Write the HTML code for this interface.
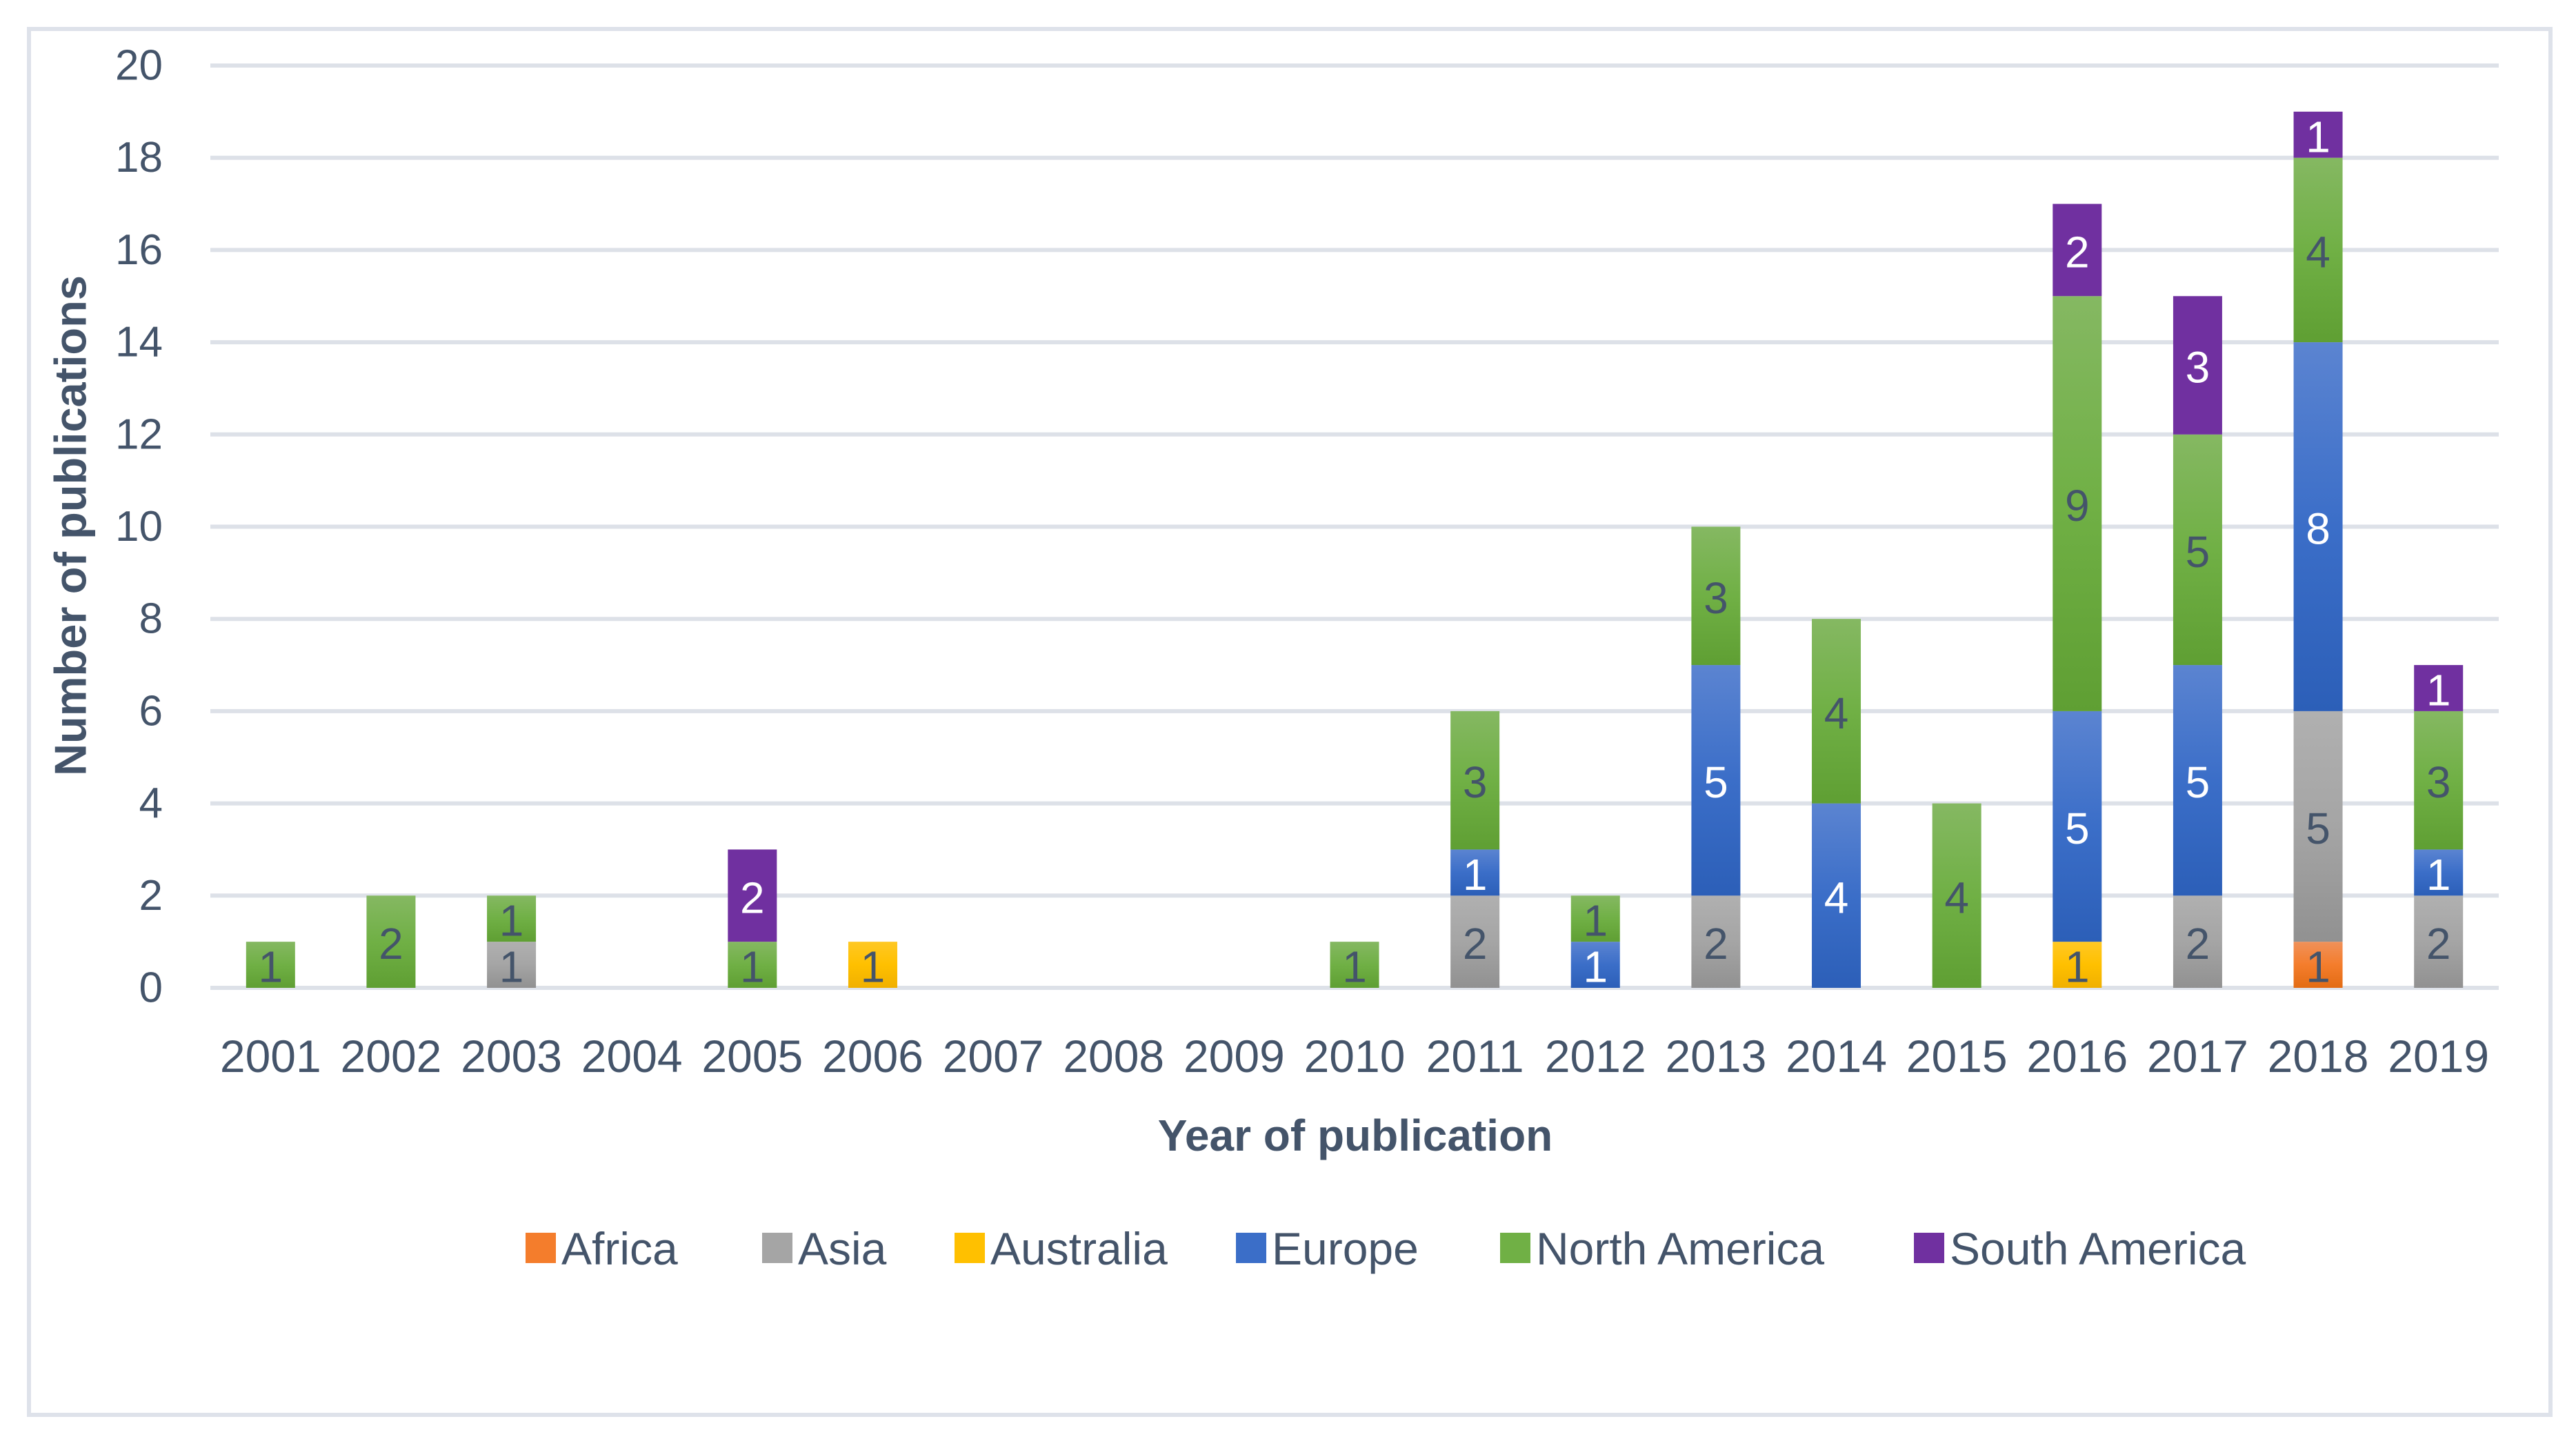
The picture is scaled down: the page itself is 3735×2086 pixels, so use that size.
<!DOCTYPE html>
<html><head><meta charset="utf-8"><style>
html,body{margin:0;padding:0;background:#fff;}
svg{display:block;font-family:"Liberation Sans",sans-serif;}
</style></head><body>
<svg id="chart" width="3735" height="2086" viewBox="0 0 3735 2086" xmlns="http://www.w3.org/2000/svg">
<defs>
<linearGradient id="g-africa" x1="0" y1="0" x2="0" y2="1"><stop offset="0" stop-color="#f0915a"/><stop offset="0.5" stop-color="#f47d2c"/><stop offset="1" stop-color="#e36c14"/></linearGradient>
<linearGradient id="g-asia" x1="0" y1="0" x2="0" y2="1"><stop offset="0" stop-color="#b0b0b0"/><stop offset="0.5" stop-color="#a5a5a5"/><stop offset="1" stop-color="#919191"/></linearGradient>
<linearGradient id="g-australia" x1="0" y1="0" x2="0" y2="1"><stop offset="0" stop-color="#ffc824"/><stop offset="0.5" stop-color="#ffc000"/><stop offset="1" stop-color="#f0b000"/></linearGradient>
<linearGradient id="g-europe" x1="0" y1="0" x2="0" y2="1"><stop offset="0" stop-color="#5b84d1"/><stop offset="0.5" stop-color="#3b6ec8"/><stop offset="1" stop-color="#2c5fb8"/></linearGradient>
<linearGradient id="g-na" x1="0" y1="0" x2="0" y2="1"><stop offset="0" stop-color="#85b862"/><stop offset="0.5" stop-color="#70b045"/><stop offset="1" stop-color="#5f9f33"/></linearGradient>
<linearGradient id="g-sa" x1="0" y1="0" x2="0" y2="1"><stop offset="0" stop-color="#7030a0"/><stop offset="1" stop-color="#7030a0"/></linearGradient>
</defs>
<rect x="42" y="42" width="3656" height="2009" fill="#fff" stroke="#dee2ea" stroke-width="6"/>
<g id="grid"></g>
<g id="bars"></g>
<g id="labels"></g>
<g id="axes"></g>
<text x="102" y="762" transform="rotate(-90 102 762)" text-anchor="middle" dominant-baseline="central" font-size="65" font-weight="bold" fill="#44546a">Number of publications</text>
<text x="1965" y="1646" text-anchor="middle" dominant-baseline="central" font-size="64" font-weight="bold" fill="#44546a">Year of publication</text>
<g id="legend"></g>
</svg>
<script>
const years = ["2001","2002","2003","2004","2005","2006","2007","2008","2009","2010","2011","2012","2013","2014","2015","2016","2017","2018","2019"];
const africa =       [0,0,0,0,0,0,0,0,0,0,0,0,0,0,0,0,0,1,0];
const asia =         [0,0,1,0,0,0,0,0,0,0,2,0,2,0,0,0,2,5,2];
const australia =    [0,0,0,0,0,1,0,0,0,0,0,0,0,0,0,1,0,0,0];
const europe =       [0,0,0,0,0,0,0,0,0,0,1,1,5,4,0,5,5,8,1];
const northAmerica = [1,2,1,0,1,0,0,0,0,1,3,1,3,4,4,9,5,4,3];
const southAmerica = [0,0,0,0,2,0,0,0,0,0,0,0,0,0,0,2,3,1,1];
const seriesNames = ["Africa","Asia","Australia","Europe","North America","South America"];
const yTicks = [0,2,4,6,8,10,12,14,16,18,20];

const NS = "http://www.w3.org/2000/svg";
const series = [africa, asia, australia, europe, northAmerica, southAmerica];
const fills = ["url(#g-africa)","url(#g-asia)","url(#g-australia)","url(#g-europe)","url(#g-na)","url(#g-sa)"];
const legendFills = ["#f47d2c","#a5a5a5","#ffc000","#3b6ec8","#70b045","#7030a0"];
const labelColors = ["#44546a","#44546a","#44546a","#ffffff","#44546a","#ffffff"];
const seriesKeys = ["africa","asia","australia","europe","north-america","south-america"];
const plotL = 305, plotR = 3623, y0 = 1432, yTop = 95, yMax = 20;
const band = (plotR - plotL) / years.length;
const barW = 71;
function yScale(v){ return y0 - (y0 - yTop) * v / yMax; }
function xCenter(i){ return plotL + band * (i + 0.5); }
function mk(tag, attrs, parent){ const e = document.createElementNS(NS, tag); for (const k in attrs) e.setAttribute(k, attrs[k]); parent.appendChild(e); return e; }

const grid = document.getElementById("grid");
const axes = document.getElementById("axes");
yTicks.forEach(t => {
  const l = mk("line", {x1: plotL, x2: plotR, y1: yScale(t), y2: yScale(t), stroke: "#dde1e8", "stroke-width": 6}, grid);
  
  
  const tx = mk("text", {x: 236, y: yScale(t), "text-anchor": "end", "dominant-baseline": "central", "font-size": 62, fill: "#44546a"}, axes);
  tx.textContent = t;
  
  
});
years.forEach((yr, i) => {
  const tx = mk("text", {x: xCenter(i), y: 1531, "text-anchor": "middle", "dominant-baseline": "central", "font-size": 66, fill: "#44546a"}, axes);
  tx.textContent = yr;
  
  
});

const bars = document.getElementById("bars");
const labels = document.getElementById("labels");
years.forEach((yr, i) => {
  let cum = 0;
  series.forEach((s, k) => {
    const v = s[i];
    if (!v) return;
    const yb = yScale(cum), yt = yScale(cum + v);
    const r = mk("rect", {x: xCenter(i) - barW/2, y: yt, width: barW, height: yb - yt, fill: fills[k]}, bars);
    
    
    const tx = mk("text", {x: xCenter(i), y: (yb + yt) / 2 + 3, "text-anchor": "middle", "dominant-baseline": "central", "font-size": 64, fill: labelColors[k]}, labels);
    tx.textContent = v;
    
    
    cum += v;
  });
});

const legend = document.getElementById("legend");
const legendX = [762, 1105, 1384, 1792, 2175, 2775];
seriesNames.forEach((n, k) => {
  const g = mk("g", {}, legend);
  
  
  const sq = mk("rect", {x: legendX[k], y: 1787, width: 44, height: 44, fill: legendFills[k]}, g);
  
  
  const tx = mk("text", {x: legendX[k] + 52, y: 1810, "dominant-baseline": "central", "font-size": 66, fill: "#44546a"}, g);
  tx.textContent = n;
  
  
});
</script>
</body></html>
